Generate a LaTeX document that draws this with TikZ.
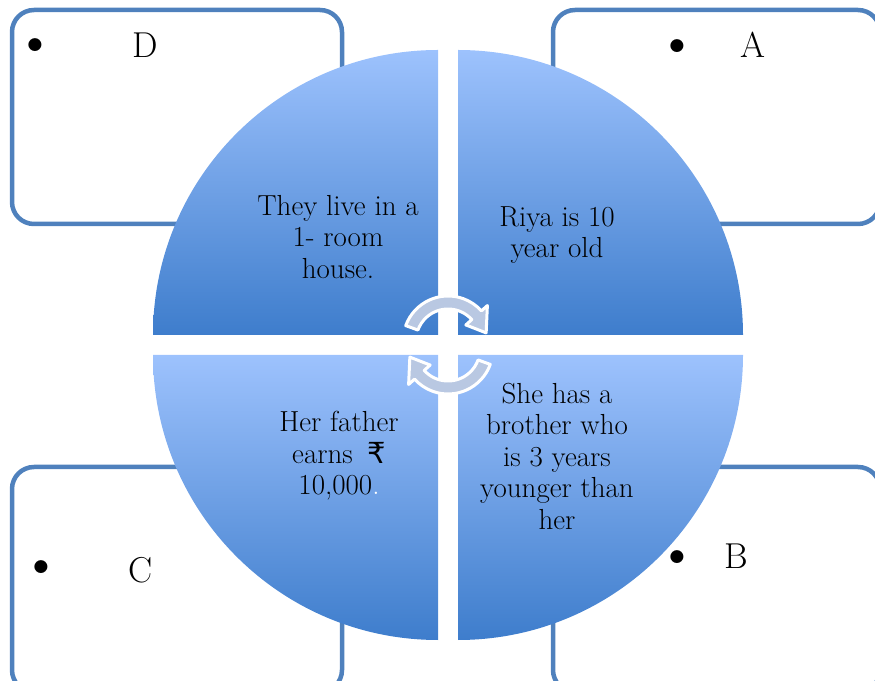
\documentclass[tikz,border=0pt]{standalone}
\usepackage{fontspec}
\newfontfamily\rupeefont{DejaVu Sans}
\usetikzlibrary{calc}

\definecolor{boxline}{RGB}{79,129,189}
\definecolor{quadtop}{RGB}{157,194,253}
\definecolor{quadbot}{RGB}{62,125,204}
\definecolor{cyclefill}{RGB}{185,200,226}

\tikzset{
  factbox/.style={draw=boxline, line width=4.5pt, rounded corners=22pt},
  quad/.style={top color=quadtop, bottom color=quadbot},
  fact/.style={align=center, font=\fontsize{29}{31.5}\selectfont, text=black},
  tag/.style={font=\fontsize{36}{40}\selectfont, inner sep=0pt},
  bullet/.style={font=\fontsize{58}{60}\selectfont, inner sep=0pt, anchor=base}
}
\tikzset{cyclearrow/.style={fill=cyclefill, draw=white, line width=3pt, line join=round}}

\begin{document}
\begin{tikzpicture}[x=1pt,y=1pt]
  \useasboundingbox (0,0) rectangle (875,680);
  \clip (0,0) rectangle (875,680);

  % Corner boxes
  \draw[factbox] (12,456) rectangle (342,670);
  \draw[factbox] (553,456) rectangle (880,670);
  \draw[factbox] (12,-12) rectangle (342,213);
  \draw[factbox] (553,-12) rectangle (880,213);

  % Four quarter discs
  \shade[quad] (438,345) -- (153,345) arc[start angle=180, end angle=90, radius=285] -- cycle;
  \shade[quad] (458,345) -- (458,630) arc[start angle=90, end angle=0, radius=285] -- cycle;
  \shade[quad] (438,325) -- (438,40) arc[start angle=270, end angle=180, radius=285] -- cycle;
  \shade[quad] (458,325) -- (743,325) arc[start angle=0, end angle=-90, radius=285] -- cycle;

  % Cycle arrows in the middle
  \coordinate (ctop) at (448,339);
  \coordinate (cbot) at (448,331);
  \filldraw[cyclearrow] ($(ctop)+(160:45)$) arc[start angle=160, end angle=42, radius=45]
    -- ($(ctop)+(42:53)$) -- ($(ctop)+(12:39)$) -- ($(ctop)+(42:24)$) -- ($(ctop)+(42:32)$)
    arc[start angle=42, end angle=160, radius=32] -- cycle;
  \filldraw[cyclearrow] ($(cbot)+(-20:45)$) arc[start angle=-20, end angle=-138, radius=45]
    -- ($(cbot)+(-138:53)$) -- ($(cbot)+(-168:39)$) -- ($(cbot)+(-138:24)$) -- ($(cbot)+(-138:32)$)
    arc[start angle=-138, end angle=-20, radius=32] -- cycle;

  % Facts
  \node[fact] (house) at (338,443) {They live in a\\1- room\\house.};
  \node[fact] (age) at (557,445) {Riya is 10\\year old};
  \node[fact] (income) at (339,224) {Her father\\earns\hspace{0.5em}{\rupeefont ₹}\\10,000{\color{white}.}};
  \node[fact] (brother) at (557,224) {She has a\\brother who\\is 3 years\\younger than\\her};

  % Box labels
  \node[bullet] (dotD) at (35,619) {\textbullet};
  \node[tag] (labD) at (145,635) {D};
  \node[bullet] (dotA) at (677,618) {\textbullet};
  \node[tag] (labA) at (753,635) {A};
  \node[bullet] (dotC) at (41,98) {\textbullet};
  \node[tag] (labC) at (141,110) {C};
  \node[bullet] (dotB) at (677,107) {\textbullet};
  \node[tag] (labB) at (736,124) {B};
\end{tikzpicture}
\end{document}
